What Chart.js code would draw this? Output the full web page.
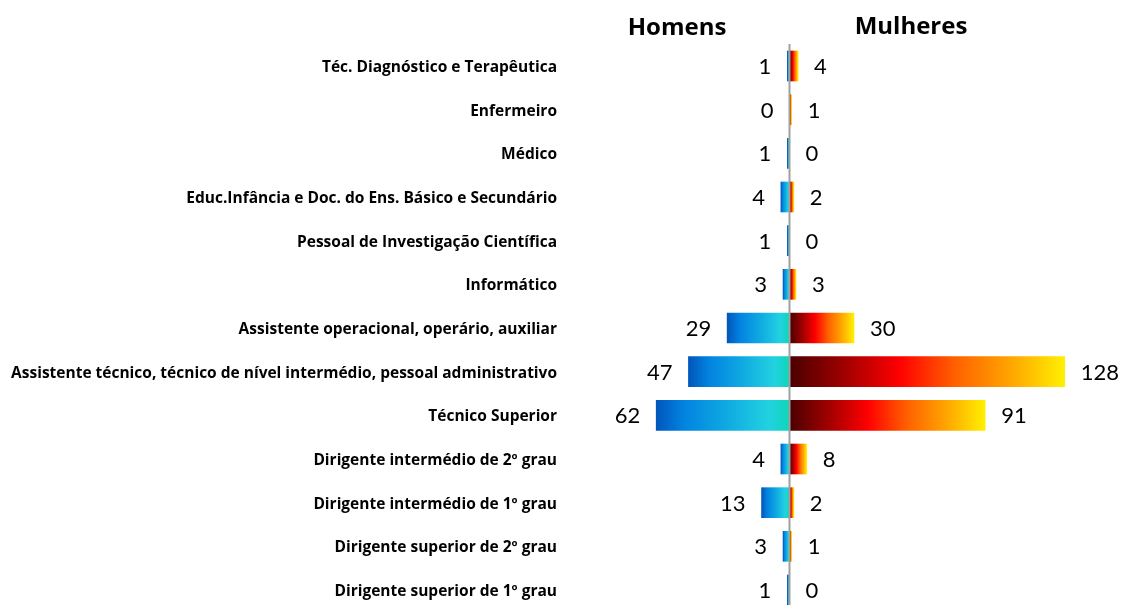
<!DOCTYPE html>
<html><head><meta charset="utf-8">
<script src="https://cdn.jsdelivr.net/npm/chart.js@4.4.1/dist/chart.umd.min.js"></script>
<style>html,body{margin:0;padding:0;background:#fff;overflow:hidden}#wrap{width:1126px;height:605px;position:relative}</style>
</head><body><div id="wrap"><canvas id="c" width="1126" height="605"></canvas></div>
<script>
const categories = ['Téc. Diagnóstico e Terapêutica','Enfermeiro','Médico','Educ.Infância e Doc. do Ens. Básico e Secundário','Pessoal de Investigação Científica','Informático','Assistente operacional, operário, auxiliar','Assistente técnico, técnico de nível intermédio, pessoal administrativo','Técnico Superior','Dirigente intermédio de 2º grau','Dirigente intermédio de 1º grau','Dirigente superior de 2º grau','Dirigente superior de 1º grau'];
const homens = [1,0,1,4,1,3,29,47,62,4,13,3,1];
const mulheres = [4,1,0,2,0,3,30,128,91,8,2,1,0];
const seriesNames = ['Homens','Mulheres'];

const LFONT = '"Open Sans", Lato, sans-serif';
const VFONT = 'Lato, "Open Sans", sans-serif';

function grad(ctx, isMen){
  const chart = ctx.chart;
  if(!chart.chartArea) return isMen ? '#10a0e0' : '#ff3000';
  const xs = chart.scales.x;
  const v = ctx.raw || 0;
  const x0 = xs.getPixelForValue(0), x1 = xs.getPixelForValue(v);
  if (Math.abs(x1-x0) < 0.01) return isMen ? '#10a0e0' : '#ff8000';
  const g = chart.ctx.createLinearGradient(x0,0,x1,0);
  if(isMen){
    g.addColorStop(0,'#0cd6b8');
    g.addColorStop(0.15,'#22d2e0');
    g.addColorStop(0.5,'#0ea6e2');
    g.addColorStop(0.8,'#0282e0');
    g.addColorStop(1,'#0056bb');
  } else {
    g.addColorStop(0,'#4a0000');
    g.addColorStop(0.2,'#a00000');
    g.addColorStop(0.4,'#ff0000');
    g.addColorStop(0.6,'#ff6000');
    g.addColorStop(0.8,'#ffa400');
    g.addColorStop(1,'#fff000');
  }
  return g;
}

const overlay = {
  id:'overlay',
  afterDatasetsDraw(chart){
    const c = chart.ctx, xs = chart.scales.x, ys = chart.scales.y;
    const x0 = xs.getPixelForValue(0);
    c.save();
    c.strokeStyle = '#a0a0a0'; c.lineWidth = 2;
    c.beginPath(); c.moveTo(x0, 44); c.lineTo(x0, 605); c.stroke();
    c.fillStyle = '#000'; c.textBaseline = 'middle';
    c.font = 'bold 15.5px ' + LFONT; c.textAlign = 'right';
    categories.forEach((t,i)=>{ c.fillText(t, 557, ys.getPixelForValue(i)+1.5); });
    c.font = '22px ' + VFONT;
    categories.forEach((t,i)=>{
      const y = ys.getPixelForValue(i)+1;
      c.textAlign = 'right';
      c.fillText(String(homens[i]), xs.getPixelForValue(-homens[i]) - 16, y);
      c.textAlign = 'left';
      c.fillText(String(mulheres[i]), xs.getPixelForValue(mulheres[i]) + 16, y);
    });
    c.font = 'bold 24px ' + LFONT; c.textAlign = 'center'; c.textBaseline = 'alphabetic';
    c.fillText(seriesNames[0], 677, 35);
    c.fillText(seriesNames[1], 911, 34);
    c.restore();
  }
};

new Chart(document.getElementById('c'), {
  type:'bar',
  data:{
    labels: categories,
    datasets:[
      {label:seriesNames[0], data: homens.map(v=>-v), backgroundColor:(ctx)=>grad(ctx,true), borderWidth:0, barThickness:30, clip:false},
      {label:seriesNames[1], data: mulheres, backgroundColor:(ctx)=>grad(ctx,false), borderWidth:0, barThickness:30, clip:false}
    ]
  },
  options:{
    indexAxis:'y', responsive:false, animation:false, devicePixelRatio:1,
    layout:{padding:{left:467, right:14, top:66, bottom:15}},
    plugins:{legend:{display:false}, tooltip:{enabled:false}},
    scales:{
      x:{stacked:true, min:-150, max:150, display:false, grid:{display:false}},
      y:{stacked:true, offset:false, display:false, grid:{display:false}}
    }
  },
  plugins:[overlay]
});
</script></body></html>
